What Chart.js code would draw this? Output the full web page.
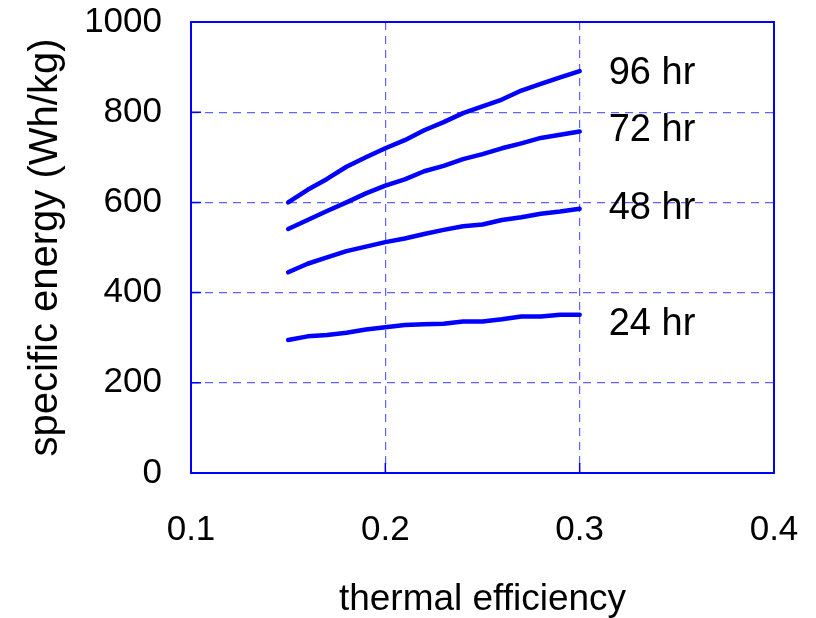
<!DOCTYPE html>
<html lang="en">
<head>
    <meta charset="UTF-8">
    <title>Specific energy vs thermal efficiency</title>
    <script src="https://cdn.jsdelivr.net/npm/chart.js"></script>
    <style>
        body {
            margin: 0;
            background: #ffffff;
        }

        .chart-box {
            width: 816px;
            height: 618px;
        }
    </style>
</head>
<body>
    <div class="chart-box">
        <canvas id="energyChart" width="816" height="618"></canvas>
    </div>

    <script>
        // thermal efficiency (x)
        const efficiency = [0.15, 0.16, 0.17, 0.18, 0.19, 0.20, 0.21, 0.22, 0.23, 0.24, 0.25, 0.26, 0.27, 0.28, 0.29, 0.30];

        // specific energy (Wh/kg) per mission duration
        const energy96 = [600, 628, 652, 679, 700, 720, 738, 760, 778, 798, 813, 828, 848, 863, 877, 891];
        const energy72 = [541, 561, 581, 600, 620, 637, 651, 669, 681, 696, 707, 720, 731, 743, 750, 757];
        const energy48 = [445, 464, 478, 492, 502, 512, 520, 530, 539, 547, 551, 561, 567, 575, 580, 586];
        const energy24 = [295, 303, 306, 311, 318, 323, 328, 330, 331, 336, 336, 341, 347, 347, 351, 351];

        const seriesNames = ['96 hr', '72 hr', '48 hr', '24 hr'];
        const seriesValues = [energy96, energy72, energy48, energy24];
        // where each name sits on the y axis
        const labelLevels = [886, 760, 587, 330];

        const xTicks = [0.1, 0.2, 0.3, 0.4];
        const yTicks = [0, 200, 400, 600, 800, 1000];

        const blue = '#0000ff';
        const gridBlue = '#6262ff';
        const fontFamily = "'Liberation Sans', Arial, sans-serif";

        const datasets = seriesValues.map((vals, i) => ({
            label: seriesNames[i],
            data: efficiency.map((x, j) => ({ x: x, y: vals[j] })),
            borderColor: blue,
            borderWidth: 4.5,
            pointRadius: 0,
            tension: 0,
            borderCapStyle: 'round',
            borderJoinStyle: 'round',
            fill: false
        }));

        // frame, little inner ticks and the series names
        const decorations = {
            id: 'decorations',
            afterDraw(chart) {
                const ctx = chart.ctx;
                const area = chart.chartArea;
                const xs = chart.scales.x;
                const ys = chart.scales.y;

                ctx.save();
                ctx.strokeStyle = blue;
                ctx.lineWidth = 2;
                ctx.strokeRect(area.left, area.top, area.right - area.left, area.bottom - area.top);

                ctx.beginPath();
                yTicks.slice(1, -1).forEach(v => {
                    const py = ys.getPixelForValue(v);
                    ctx.moveTo(area.left, py);
                    ctx.lineTo(area.left + 10, py);
                });
                xTicks.slice(1, -1).forEach(v => {
                    const px = xs.getPixelForValue(v);
                    ctx.moveTo(px, area.bottom);
                    ctx.lineTo(px, area.bottom - 10);
                });
                ctx.lineWidth = 1.5;
                ctx.stroke();

                ctx.fillStyle = '#000000';
                ctx.font = '38px ' + fontFamily;
                ctx.textAlign = 'left';
                ctx.textBaseline = 'middle';
                const lastX = efficiency[efficiency.length - 1];
                seriesNames.forEach((name, i) => {
                    ctx.fillText(name, xs.getPixelForValue(lastX) + 29, ys.getPixelForValue(labelLevels[i]));
                });
                ctx.restore();
            }
        };

        new Chart(document.getElementById('energyChart'), {
            type: 'line',
            data: { datasets },
            options: {
                responsive: false,
                animation: false,
                layout: {
                    padding: { top: 22, right: 42, bottom: 0, left: 0 }
                },
                plugins: {
                    legend: { display: false },
                    tooltip: { enabled: false }
                },
                scales: {
                    x: {
                        type: 'linear',
                        min: 0.1,
                        max: 0.4,
                        afterBuildTicks: scale => {
                            scale.ticks = xTicks.map(v => ({ value: v }));
                        },
                        afterFit: scale => {
                            scale.height = 145;
                            scale.paddingLeft = 0;
                            scale.paddingRight = 0;
                        },
                        ticks: {
                            color: '#000000',
                            padding: 36,
                            maxRotation: 0,
                            font: { family: fontFamily, size: 35 },
                            callback: v => v.toFixed(1)
                        },
                        grid: {
                            drawTicks: false,
                            color: gridBlue,
                            lineWidth: 1.2
                        },
                        border: { display: false, dash: [8, 6] },
                        title: {
                            display: true,
                            text: 'thermal efficiency',
                            color: '#000000',
                            padding: 0,
                            font: { family: fontFamily, size: 37, lineHeight: 1 }
                        }
                    },
                    y: {
                        type: 'linear',
                        min: 0,
                        max: 1000,
                        afterBuildTicks: scale => {
                            scale.ticks = yTicks.map(v => ({ value: v }));
                        },
                        afterFit: scale => {
                            scale.width = 191;
                            scale.paddingTop = 0;
                            scale.paddingBottom = 0;
                        },
                        ticks: {
                            color: '#000000',
                            padding: 29,
                            font: { family: fontFamily, size: 35 },
                            callback: v => String(v)
                        },
                        grid: {
                            drawTicks: false,
                            color: gridBlue,
                            lineWidth: 1.2
                        },
                        border: { display: false, dash: [8, 6] },
                        title: {
                            display: true,
                            text: 'specific energy (Wh/kg)',
                            color: '#000000',
                            padding: { top: 22, bottom: 0 },
                            font: { family: fontFamily, size: 40, lineHeight: 1.2 }
                        }
                    }
                }
            },
            plugins: [decorations]
        });
    </script>
</body>
</html>
